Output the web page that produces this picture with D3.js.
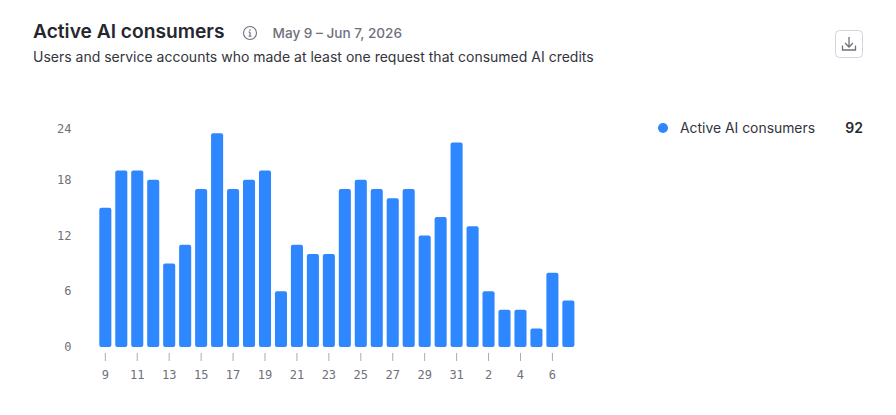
<!DOCTYPE html>
<html>
<head>
<meta charset="utf-8">
<script src="https://cdn.jsdelivr.net/npm/d3@7"></script>
<style>
html,body{margin:0;padding:0;background:#fff;overflow:hidden}
svg{display:block}
text{font-family:Inter,"Noto Sans",sans-serif}
.tick-label{font-family:"DejaVu Sans Mono",monospace;font-size:12px;fill:#6f707c}
</style>
</head>
<body>
<svg id="chart" width="896" height="415"></svg>
<script>
// Daily counts, May 9 through Jun 7, 2026
const dayLabels = ["9","10","11","12","13","14","15","16","17","18","19","20","21","22","23","24","25","26","27","28","29","30","31","1","2","3","4","5","6","7"];
const dayKeys = ["May 9","May 10","May 11","May 12","May 13","May 14","May 15","May 16","May 17","May 18","May 19","May 20","May 21","May 22","May 23","May 24","May 25","May 26","May 27","May 28","May 29","May 30","May 31","Jun 1","Jun 2","Jun 3","Jun 4","Jun 5","Jun 6","Jun 7"];
const consumers = [15,19,19,18,9,11,17,23,17,18,19,6,11,10,10,17,18,17,16,17,12,14,22,13,6,4,4,2,8,5];
const yTicks = [0,6,12,18,24];
const seriesName = "Active AI consumers";
const seriesTotal = "92";

const BLUE = "#2e87ff";
const svg = d3.select("#chart");

const x = d3.scaleBand().domain(dayKeys).range([97.7, 576]).paddingInner(0.245).paddingOuter(0.1);
const y = d3.scaleLinear().domain([0, 24]).range([347, 124]);

// Header
svg.append("text").attr("x", 33).attr("y", 38).attr("font-size", 19.2).attr("font-weight", 600).attr("fill", "#26272e").text(seriesName);
const info = svg.append("g").attr("transform", "translate(250,33)").attr("fill", "none").attr("stroke", "#6f707c");
info.append("circle").attr("r", 6.5).attr("stroke-width", 1.1);
info.append("line").attr("y1", -1).attr("y2", 3).attr("stroke-width", 1.2);
info.append("line").attr("x1", -1.5).attr("x2", 0).attr("y1", -1).attr("y2", -1).attr("stroke-width", 1);
info.append("line").attr("x1", -1.5).attr("x2", 1.5).attr("y1", 3.2).attr("y2", 3.2).attr("stroke-width", 1);
info.append("circle").attr("cy", -3).attr("r", 0.8).attr("fill", "#6f707c").attr("stroke", "none");
svg.append("text").attr("x", 272.5).attr("y", 38).attr("font-size", 13.6).attr("font-weight", 500).attr("fill", "#6f707c").text("May 9 – Jun 7, 2026");
svg.append("text").attr("x", 33).attr("y", 62).attr("font-size", 14).attr("fill", "#33343c").text("Users and service accounts who made at least one request that consumed AI credits");

// Download button
const btn = svg.append("g").attr("transform", "translate(835.5,30.5)");
btn.append("rect").attr("width", 27).attr("height", 27).attr("rx", 4).attr("fill", "#fff").attr("stroke", "#d3d4da");
btn.append("path").attr("d", "M7 15v4.5h13V15M13.5 6.5v10M9.5 12.5l4 4 4-4")
  .attr("fill", "none").attr("stroke", "#6f707c").attr("stroke-width", 1.3);

// Y axis labels; the top label sits just inside the plot
svg.append("g").selectAll("text").data(yTicks).join("text")
  .attr("class", "tick-label")
  .attr("x", 71.5).attr("text-anchor", "end")
  .attr("y", d => y(d) + (d === 24 ? 9 : 4))
  .text(d => d);

// Bars, rounded on every corner
svg.append("g").selectAll("rect").data(consumers).join("rect")
  .attr("x", (d, i) => x(dayKeys[i]))
  .attr("y", d => y(d))
  .attr("width", x.bandwidth())
  .attr("height", d => y(0) - y(d))
  .attr("rx", 2)
  .attr("fill", BLUE);

// X axis: every other day
const xAxis = svg.append("g").selectAll("g").data(dayKeys.filter((d, i) => i % 2 === 0)).join("g")
  .attr("transform", d => `translate(${x(d) + x.bandwidth() / 2},0)`);
xAxis.append("line").attr("y1", 353).attr("y2", 361).attr("stroke", "#a9aab6").attr("stroke-width", 1);
xAxis.append("text").attr("class", "tick-label").attr("y", 379).attr("text-anchor", "middle")
  .text(d => dayLabels[dayKeys.indexOf(d)]);

// Legend
svg.append("circle").attr("cx", 663).attr("cy", 128).attr("r", 5).attr("fill", BLUE);
svg.append("text").attr("x", 680).attr("y", 133).attr("font-size", 13.9).attr("fill", "#33343c").text(seriesName);
svg.append("text").attr("x", 863).attr("y", 133).attr("text-anchor", "end").attr("font-size", 14).attr("font-weight", 600).attr("fill", "#26272e").text(seriesTotal);
</script>
</body>
</html>
